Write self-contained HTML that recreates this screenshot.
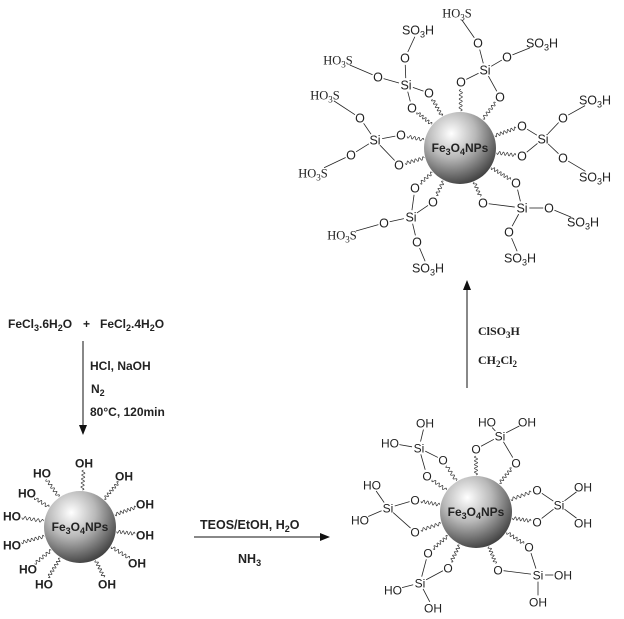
<!DOCTYPE html>
<html><head><meta charset="utf-8"><style>
html,body{margin:0;padding:0;background:#fff;width:624px;height:619px;overflow:hidden}
svg{display:block}
.s{font-family:"Liberation Sans",sans-serif}
.sr{font-family:"Liberation Serif",serif}
</style></head><body>
<svg id="g" width="624" height="619" viewBox="0 0 624 619" xmlns="http://www.w3.org/2000/svg">
<defs>
<radialGradient id="sp" cx="0.38" cy="0.3" r="0.75">
<stop offset="0" stop-color="#ffffff"/>
<stop offset="0.45" stop-color="#b8b8b8"/>
<stop offset="1" stop-color="#3a3a3a"/>
</radialGradient>
<marker id="ah" markerWidth="10" markerHeight="8" refX="9" refY="4" orient="auto" markerUnits="userSpaceOnUse">
<path d="M0,0 L10,4 L0,8 Z" fill="#111"/>
</marker>
</defs>
<g stroke="#111" stroke-width="1" fill="none">
<line x1="83" y1="341" x2="83" y2="434" marker-end="url(#ah)"/>
<line x1="194" y1="537" x2="329" y2="537" marker-end="url(#ah)"/>
<line x1="467" y1="388" x2="467" y2="281" marker-end="url(#ah)"/>
</g>
<g class="s" font-weight="bold" font-size="12" fill="#222">
<text x="8" y="328">FeCl<tspan font-size="9" dy="3">3</tspan><tspan dy="-3">.6H</tspan><tspan font-size="9" dy="3">2</tspan><tspan dy="-3">O</tspan></text>
<text x="83" y="328">+</text>
<text x="100" y="328">FeCl<tspan font-size="9" dy="3">2</tspan><tspan dy="-3">.4H</tspan><tspan font-size="9" dy="3">2</tspan><tspan dy="-3">O</tspan></text>
<text x="90" y="370">HCl, NaOH</text>
<text x="91" y="393">N<tspan font-size="9" dy="3">2</tspan></text>
<text x="90" y="416">80°C, 120min</text>
<text x="200" y="529" font-size="12.5">TEOS/EtOH, H<tspan font-size="9" dy="3">2</tspan><tspan dy="-3">O</tspan></text>
<text x="238" y="563" font-size="12.5">NH<tspan font-size="9" dy="3">3</tspan></text>
</g>
<g class="sr" font-weight="bold" font-size="12" fill="#222">
<text x="478" y="335">ClSO<tspan font-size="9" dy="3">3</tspan><tspan dy="-3">H</tspan></text>
<text x="478" y="364">CH<tspan font-size="9" dy="3">2</tspan><tspan dy="-3">Cl</tspan><tspan font-size="9" dy="3">2</tspan></text>
</g>
<g id="dyn"></g>
</svg>
<script>
var NS="http://www.w3.org/2000/svg",D=document.getElementById("dyn");
function el(t,a){var e=document.createElementNS(NS,t);for(var k in a)e.setAttribute(k,a[k]);D.appendChild(e);return e;}
function W(s,fs){var w=0;for(var i=0;i<s.length;i++){var c=s[i];w+=(/\d/.test(c)?0.45:(c=="i"?0.25:0.68))*fs;}return w;}
function label(s,x,y,fs,cls,bold){
 var t=el("text",{x:x,y:y+fs*0.36,"text-anchor":"middle","font-size":fs,"class":cls,fill:"#222"});
 if(bold)t.setAttribute("font-weight","bold");
 var parts=s.match(/\d+|\D+/g),dy=0;
 parts.forEach(function(p){var ts=document.createElementNS(NS,"tspan");
  if(/\d/.test(p)){ts.setAttribute("font-size",fs*0.72);ts.setAttribute("dy",3);dy=3;}
  else{if(dy){ts.setAttribute("dy",-3);dy=0;}}
  ts.textContent=p;t.appendChild(ts);});
}
function ex(a,dx,dy){var rx=a.w/2+1.5,ry=a.h;var t=1/Math.sqrt((dx/rx)*(dx/rx)+(dy/ry)*(dy/ry));return t;}
function bond(a,b){var dx=b.x-a.x,dy=b.y-a.y;var ta=ex(a,dx,dy),tb=ex(b,dx,dy);
 if(ta+tb>=1)return;
 el("line",{x1:a.x+dx*ta,y1:a.y+dy*ta,x2:b.x-dx*tb,y2:b.y-dy*tb,stroke:"#222","stroke-width":0.8});}
function wavy(c,a){var dx=a.x-c.x,dy=a.y-c.y,L=Math.sqrt(dx*dx+dy*dy),ux=dx/L,uy=dy/L;
 var s=c.r+1,e=L*(1-ex(a,dx,dy))-0.5;if(e<=s)return;var d="",n=Math.max(8,Math.round((e-s)*2));
 for(var i=0;i<=n;i++){var p=s+(e-s)*i/n,o=1.6*Math.sin((p-s)/(e-s)*Math.PI*2*Math.max(2,Math.round((e-s)/4)));
  var x=c.x+ux*p-uy*o,y=c.y+uy*p+ux*o;d+=(i?"L":"M")+x.toFixed(2)+","+y.toFixed(2);}
 el("path",{d:d,fill:"none",stroke:"#333","stroke-width":0.7});}
function sphere(x,y,r){el("circle",{cx:x,cy:y,r:r,fill:"url(#sp)"});
 var t=el("text",{x:x,y:y+4,"text-anchor":"middle","font-size":12,"font-weight":"bold","class":"s",fill:"#222"});
 t.innerHTML='Fe<tspan font-size="9" dy="3">3</tspan><tspan dy="-3">O</tspan><tspan font-size="9" dy="3">4</tspan><tspan dy="-3">NPs</tspan>';
 return {x:x,y:y,r:r};}
function A(s,x,y,fs,cls,bold){var a={s:s,x:x,y:y,w:W(s,fs),h:fs*0.55};label(s,x,y,fs,cls,bold);return a;}

var L=sphere(80,527,36);
[["OH",84,463],["HO",42,473],["OH",124,476],["HO",27,493],["OH",145,504],["HO",12,516],["OH",145,535],["HO",12,545],["OH",137,563],["HO",28,569],["HO",44,584],["OH",107,584]].forEach(function(q){
 var a=A(q[0],q[1],q[2],12,"s",true);wavy(L,a);});

var B=sphere(476,512,36);
function grp(C,si,subs,os,fs,cls){var S=A("Si",si[0],si[1],fs,"s");
 subs.forEach(function(q){var a=A(q[0],q[1],q[2],fs,q[3]||"s");bond(S,a);});
 os.forEach(function(q){var o=A("O",q[0],q[1],fs,"s");bond(S,o);wavy(C,o);});}
grp(B,[419,448],[["OH",425,423],["HO",390,443]],[[443,460],[427,476]],12);
grp(B,[500,436],[["HO",487,422],["OH",527,422]],[[476,449],[516,463]],12);
grp(B,[388,508],[["HO",372,485],["HO",360,520]],[[415,500],[415,532]],12);
grp(B,[559,505],[["OH",583,487],["OH",583,523]],[[537,490],[537,522]],12);
grp(B,[420,583],[["HO",393,590],["OH",433,608]],[[428,553],[448,568]],12);
grp(B,[538,575],[["OH",563,575],["OH",538,602]],[[529,547],[498,570]],12);

var T=sphere(460,148,36);
function grp2(si,chains,os){var S=A("Si",si[0],si[1],12.5,"s");
 chains.forEach(function(q){var o=A("O",q[1],q[2],12.5,"s");bond(S,o);var a=A(q[0],q[3],q[4],12.5,q[5]);bond(o,a);});
 os.forEach(function(q){var o=A("O",q[0],q[1],12.5,"s");bond(S,o);wavy(T,o);});}
grp2([485,70],[["HO3S",478,43,457,13,"sr"],["SO3H",507,57,542,43,"s"]],[[461,82],[500,97]]);
grp2([406,85],[["SO3H",405,58,418,30,"s"],["HO3S",378,77,338,60,"sr"]],[[429,93],[412,108]]);
grp2([375,140],[["HO3S",360,118,325,95,"sr"],["HO3S",351,155,313,173,"sr"]],[[401,135],[399,165]]);
grp2([543,139],[["SO3H",563,118,595,100,"s"],["SO3H",563,158,595,177,"s"]],[[522,126],[522,156]]);
grp2([411,217],[["HO3S",384,223,342,235,"sr"],["SO3H",417,242,428,268,"s"]],[[415,188],[433,202]]);
grp2([522,208],[["SO3H",549,208,583,222,"s"],["SO3H",509,232,520,258,"s"]],[[516,183],[483,203]]);
</script>
</body></html>
